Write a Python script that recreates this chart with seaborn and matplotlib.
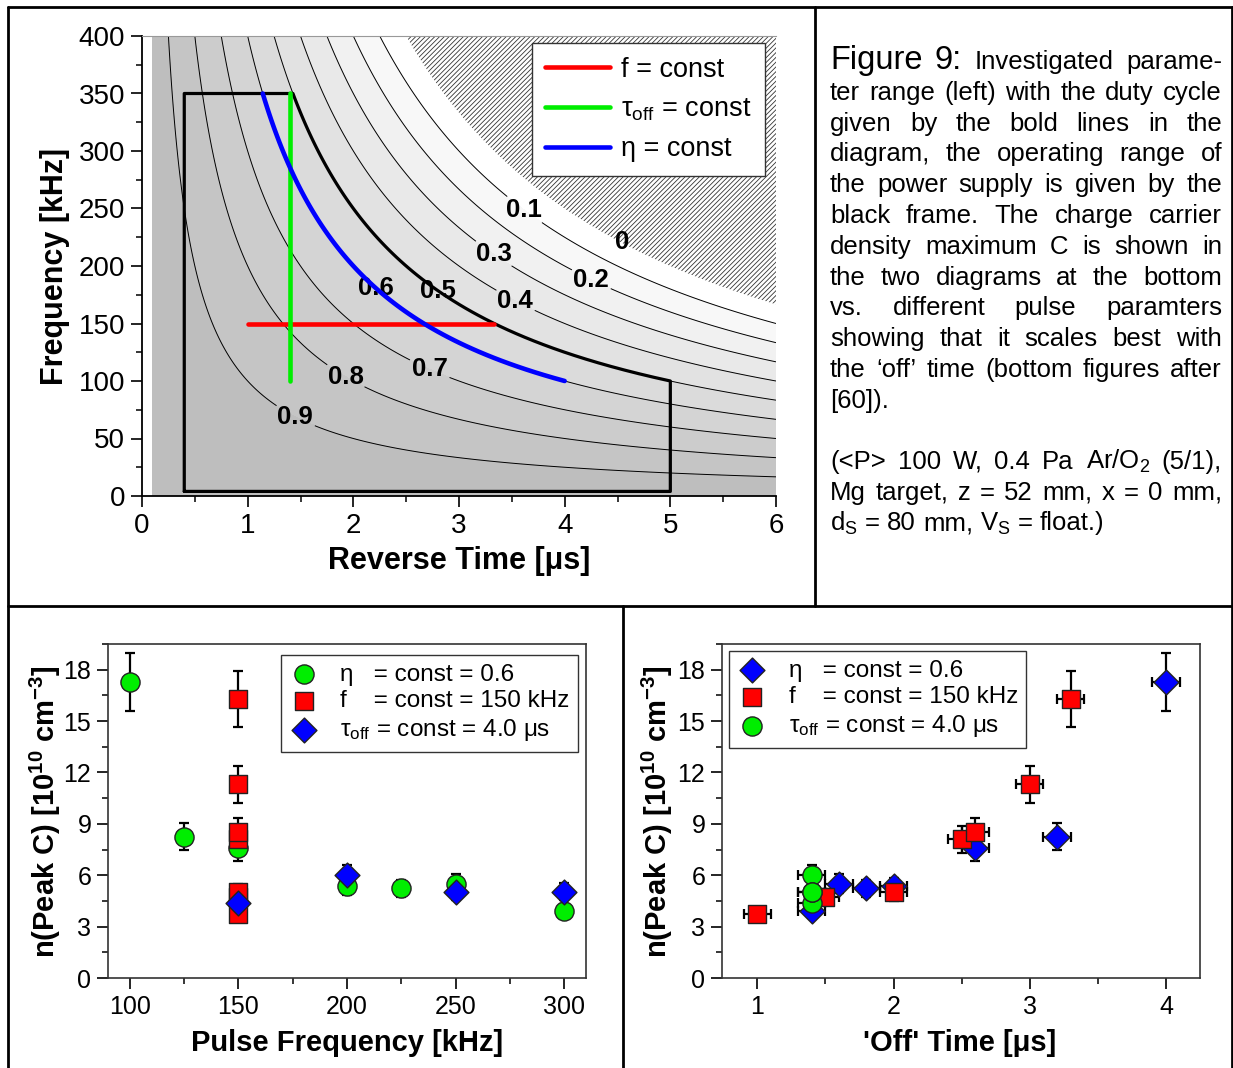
import numpy as np
import matplotlib
matplotlib.use("Agg")
import matplotlib.pyplot as plt
import seaborn as sns
from matplotlib.lines import Line2D
from matplotlib.colors import LinearSegmentedColormap, Normalize
from matplotlib.ticker import MultipleLocator

W, H = 1233, 1068

# ---- top diagram: duty cycle map  eta = 1 - f * t_rev ----
eta_levels = [0.1, 0.2, 0.3, 0.4, 0.5, 0.6, 0.7, 0.8, 0.9]
frame_t = [0.4, 5.0]          # us
frame_f = [4, 350]            # kHz
frame_eta = 0.5               # upper-right edge of the operating range
f_const = 150                 # kHz
f_const_t = [1.0, 3.33]       # us
toff_const = 1.4              # us
toff_const_f = [100, 350]     # kHz
eta_const = 0.6
eta_const_f = [350, 100]      # kHz

# ---- bottom diagrams: n(Peak C) ----
freq_eta = [100, 125, 150, 200, 225, 250, 300]
toff_eta = [4.0, 3.2, 2.6, 2.0, 1.8, 1.6, 1.4]
n_eta = [17.3, 8.25, 7.6, 5.35, 5.25, 5.5, 3.9]
err_eta = [1.7, 0.8, 0.75, 0.5, 0.5, 0.55, 0.4]

freq_f = [150, 150, 150, 150, 150, 150, 150]
toff_f = [1.0, 1.5, 2.0, 2.5, 2.6, 3.0, 3.3]
n_f = [3.75, 4.75, 5.0, 8.1, 8.5, 11.3, 16.3]
err_f = [0.35, 0.45, 0.5, 0.8, 0.85, 1.1, 1.65]

freq_toff = [150, 200, 250, 300]
toff_toff = [1.4, 1.4, 1.4, 1.4]
n_toff = [4.35, 6.0, 5.05, 5.05]
err_toff = [0.45, 0.6, 0.5, 0.5]

toff_xerr = 0.1

caption_lines = [
    "Figure 9: Investigated parame-",
    "ter range (left) with the duty cycle",
    "given by the bold lines in the",
    "diagram, the operating range of",
    "the power supply is given by the",
    "black frame. The charge carrier",
    "density maximum C is shown in",
    "the two diagrams at the bottom",
    "vs. different pulse paramters",
    "showing that it scales best with",
    "the \u2018off\u2019 time (bottom figures after",
    "[60]).",
    "",
    "(<P> 100 W, 0.4 Pa Ar/O$_2$ (5/1),",
    "Mg target, z = 52 mm, x = 0 mm,",
    "d$_\\mathrm{S}$ = 80 mm, V$_\\mathrm{S}$ = float.)",
]
no_justify = {11, 15}

sns.set_theme(style="ticks")
plt.rcParams["font.family"] = ["Liberation Sans", "DejaVu Sans"]
plt.rcParams["mathtext.fontset"] = "custom"
plt.rcParams["mathtext.rm"] = "Liberation Sans"
plt.rcParams["mathtext.it"] = "Liberation Sans:italic"
plt.rcParams["mathtext.bf"] = "Liberation Sans:bold"
plt.rcParams["hatch.linewidth"] = 0.6
plt.rcParams["axes.edgecolor"] = "black"
plt.rcParams["xtick.color"] = "black"
plt.rcParams["ytick.color"] = "black"
plt.rcParams["text.color"] = "black"

fig = plt.figure(figsize=(W / 100, H / 100), dpi=100)


def px_axes(l, t, r, b):
    return fig.add_axes([l / W, 1 - b / H, (r - l) / W, (b - t) / H])


def fig_line(x0, y0, x1, y1, lw=2.0):
    fig.add_artist(Line2D([x0 / W, x1 / W], [1 - y0 / H, 1 - y1 / H],
                          transform=fig.transFigure, color="black", lw=lw))


def style_ticks(ax, size):
    ax.tick_params(which="major", direction="out", length=8, width=1.2,
                   labelsize=size, pad=4)
    ax.tick_params(which="minor", direction="out", length=4.5, width=1.1)


# ================= top: parameter range =================
ax = px_axes(142, 36, 776, 496)
tt = np.linspace(0.1, 6, 600)
ff = np.linspace(0, 400, 400)
T, F = np.meshgrid(tt, ff)
ETA = 1 - F * T / 1000.0

greys = LinearSegmentedColormap.from_list("g", ["#ffffff", "#bebebe"])
ax.contourf(T, F, ETA, levels=[0] + eta_levels + [1.0], cmap=greys,
            norm=Normalize(0.05, 0.95))
# eta < 0 : not reachable, hatched
t_hatch = np.linspace(1000 / 400, 6, 300)
ax.fill_between(t_hatch, 1000 / t_hatch, 400, facecolor="white",
                edgecolor="#333333", hatch="///////", linewidth=0, zorder=1.5)
cs = ax.contour(T, F, ETA, levels=eta_levels, colors="black", linewidths=0.7)
label_pos = [(3.62, 249), (4.26, 190), (3.33, 211), (3.54, 171), (2.8, 178),
             (2.2, 180), (2.72, 110), (1.92, 103), (1.45, 69)]
lbls = ax.clabel(cs, fmt="%.1f", fontsize=18.5, manual=label_pos,
                 inline=True, inline_spacing=4)
for lb in lbls:
    lb.set_rotation(0)
    lb.set_fontweight("bold")
ax.text(4.54, 221, "0", fontsize=18.5, fontweight="bold", ha="center",
        va="center", zorder=3)

# operating range frame
edge_f = np.linspace(frame_f[1], (1 - frame_eta) * 1000 / frame_t[1], 80)
edge_t = (1 - frame_eta) * 1000 / edge_f
box_t = np.concatenate([[frame_t[0], frame_t[0]], edge_t, [frame_t[1], frame_t[0]]])
box_f = np.concatenate([[frame_f[0], frame_f[1]], edge_f, [frame_f[0], frame_f[0]]])
ax.plot(box_t, box_f, color="black", lw=2.3, zorder=4)

ax.plot(f_const_t, [f_const, f_const], color="#ff0000", lw=3.3,
        solid_capstyle="round", zorder=5, label="f = const")
ax.plot([toff_const, toff_const], toff_const_f, color="#00ee00", lw=3.3,
        solid_capstyle="round", zorder=5, label="\u03c4$_\\mathrm{off}$ = const")
blue_f = np.linspace(eta_const_f[0], eta_const_f[1], 100)
ax.plot((1 - eta_const) * 1000 / blue_f, blue_f, color="#0000ff", lw=3.3,
        solid_capstyle="round", zorder=6, label="\u03b7 = const")

ax.set_xlim(0, 6)
ax.set_ylim(0, 400)
ax.xaxis.set_major_locator(MultipleLocator(1))
ax.xaxis.set_minor_locator(MultipleLocator(0.5))
ax.yaxis.set_major_locator(MultipleLocator(50))
ax.yaxis.set_minor_locator(MultipleLocator(25))
style_ticks(ax, 20)
ax.spines["right"].set_visible(False)
ax.spines["top"].set_color("#999999")
ax.spines["top"].set_linewidth(0.8)
for s in ["left", "bottom"]:
    ax.spines[s].set_linewidth(1.3)
leg = ax.legend(loc="upper right", bbox_to_anchor=((765 - 142) / 634, (496 - 43) / 460),
                borderaxespad=0, fontsize=19.5, handlelength=2.4, handletextpad=0.4,
                labelspacing=0.5, borderpad=0.5, fancybox=False, framealpha=1)
leg.get_frame().set_edgecolor("#333333")
leg.get_frame().set_linewidth(1.0)
leg.set_zorder(10)
fig.text(55 / W, 1 - 266 / H, "Frequency [kHz]", rotation=90, fontsize=22,
         fontweight="bold", ha="center", va="center")
fig.text(459 / W, 1 - 561 / H, "Reverse Time [\u03bcs]", fontsize=22,
         fontweight="bold", ha="center", va="center")

# ================= bottom plots =================
ylab = r"n(Peak C) [10$^{\mathbf{10}}$ cm$^{\mathbf{-3}}$]"
mk = dict(edgecolor="#222222", linewidth=1.0, zorder=4)
eb = dict(fmt="none", ecolor="black", elinewidth=1.6, capsize=3.5,
          capthick=1.6, zorder=3)


def finish_bottom(ax, legend_kw):
    ax.set_ylim(0, 19.5)
    ax.yaxis.set_major_locator(MultipleLocator(3))
    ax.yaxis.set_minor_locator(MultipleLocator(1.5))
    style_ticks(ax, 18)
    for s in ax.spines.values():
        s.set_color("#333333")
        s.set_linewidth(1.2)
    leg = ax.legend(fontsize=17.5, handlelength=1.2, handletextpad=0.9,
                    labelspacing=0.2, borderpad=0.35, fancybox=False,
                    framealpha=1, borderaxespad=0, **legend_kw)
    leg.get_frame().set_edgecolor("#333333")
    leg.get_frame().set_linewidth(1.0)


lab_eta = "\u03b7   = const = 0.6"
lab_f = "f    = const = 150 kHz"
lab_toff = "\u03c4$_\\mathrm{off}$ = const = 4.0 \u03bcs"

# left: vs pulse frequency
axl = px_axes(108, 644, 586, 978)
axl.errorbar(freq_eta, n_eta, yerr=err_eta, **eb)
axl.errorbar(freq_f, n_f, yerr=err_f, **eb)
axl.errorbar(freq_toff, n_toff, yerr=err_toff, **eb)
sns.scatterplot(x=freq_eta, y=n_eta, marker="o", s=190, color="#00ee00",
                label=lab_eta, ax=axl, **mk)
sns.scatterplot(x=freq_f, y=n_f, marker="s", s=150, color="#ff0000",
                label=lab_f, ax=axl, **mk)
sns.scatterplot(x=freq_toff, y=n_toff, marker="D", s=160, color="#0000ff",
                label=lab_toff, ax=axl, **mk)
axl.set_xlim(90, 310)
axl.xaxis.set_major_locator(MultipleLocator(50))
axl.xaxis.set_minor_locator(MultipleLocator(25))
finish_bottom(axl, dict(loc="upper right",
                        bbox_to_anchor=((578 - 108) / 478, (978 - 655) / 334)))
fig.text(45 / W, 1 - 812 / H, ylab, rotation=90, fontsize=21,
         fontweight="bold", ha="center", va="center")
fig.text(347 / W, 1 - 1043 / H, "Pulse Frequency [kHz]", fontsize=21,
         fontweight="bold", ha="center", va="center")

# right: vs off time
axr = px_axes(722, 644, 1200, 978)
axr.errorbar(toff_eta, n_eta, yerr=err_eta, xerr=toff_xerr, **eb)
axr.errorbar(toff_f, n_f, yerr=err_f, xerr=toff_xerr, **eb)
axr.errorbar(toff_toff, n_toff, yerr=err_toff, xerr=toff_xerr, **eb)
sns.scatterplot(x=toff_eta, y=n_eta, marker="D", s=160, color="#0000ff",
                label=lab_eta, ax=axr, **mk)
sns.scatterplot(x=toff_f, y=n_f, marker="s", s=150, color="#ff0000",
                label=lab_f, ax=axr, **mk)
sns.scatterplot(x=toff_toff, y=n_toff, marker="o", s=190, color="#00ee00",
                label=lab_toff, ax=axr, **mk)
axr.set_xlim(0.74, 4.25)
axr.xaxis.set_major_locator(MultipleLocator(1))
axr.xaxis.set_minor_locator(MultipleLocator(0.5))
finish_bottom(axr, dict(loc="upper left",
                        bbox_to_anchor=((729 - 722) / 478, (978 - 651) / 334)))
fig.text(657 / W, 1 - 812 / H, ylab, rotation=90, fontsize=21,
         fontweight="bold", ha="center", va="center")
fig.text(960 / W, 1 - 1043 / H, "'Off' Time [\u03bcs]", fontsize=21,
         fontweight="bold", ha="center", va="center")

# ================= caption (justified) =================
renderer = fig.canvas.get_renderer()
cap_left, cap_right = 830, 1222
body_fs, head_fs = 18.5, 23.5
space_px = 0.278 * body_fs * 100 / 72
base = 69
for i, line in enumerate(caption_lines):
    y = base + 30.8 * i if i < 13 else 469 + 30.7 * (i - 13)
    if not line:
        continue
    words = line.split(" ")
    sizes = [body_fs] * len(words)
    if i == 0:
        sizes[0] = sizes[1] = head_fs
    arts = [fig.text(0, 1 - y / H, w, fontsize=s, ha="left", va="baseline")
            for w, s in zip(words, sizes)]
    widths = [a.get_window_extent(renderer).width for a in arts]
    if i in no_justify:
        gap = space_px
    else:
        gap = (cap_right - cap_left - sum(widths)) / (len(words) - 1)
    x = cap_left
    for a, w in zip(arts, widths):
        a.set_x(x / W)
        x += w + gap

# ================= panel borders =================
fig_line(8, 7, W, 7)
fig_line(8, 7, 8, H)
fig_line(W - 1, 7, W - 1, H)
fig_line(8, 606, W, 606)
fig_line(815, 7, 815, 606)
fig_line(623, 606, 623, H)

fig.savefig("out.png", dpi=100, facecolor="white")
